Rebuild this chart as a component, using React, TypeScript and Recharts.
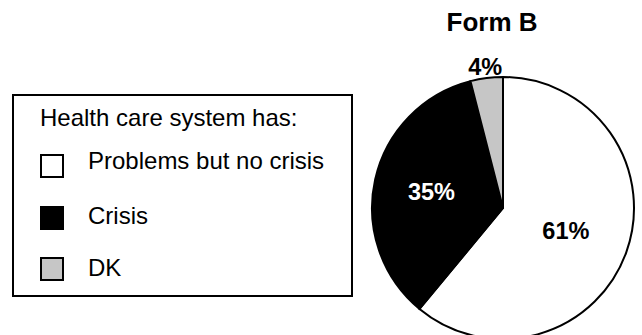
import { PieChart, Pie, Cell } from "recharts"

const categories = ["Problems but no crisis", "Crisis", "DK"]
const shares = [61, 35, 4]
const fills = ["#ffffff", "#000000", "#c6c6c6"]
const labelColors = ["#000000", "#ffffff", "#000000"]

const data = categories.map((name, i) => ({ name, value: shares[i] }))

const FONT = "'Liberation Sans', Arial, Helvetica, sans-serif"
const RAD = Math.PI / 180

function renderLabel(props: any) {
  const { cx, cy, midAngle, outerRadius, value, index } = props
  const r = value < 10 ? outerRadius + 11 : outerRadius * (index === 0 ? 0.51 : 0.56)
  const x = cx + r * Math.cos(-midAngle * RAD)
  const y = cy + r * Math.sin(-midAngle * RAD)
  return (
    <text
      x={x} y={y}
      fill={labelColors[index]}
      textAnchor="middle"
      dominantBaseline="central"
      fontFamily={FONT}
      fontWeight="bold"
      fontSize={23.5}
    >
      {value}%
    </text>
  )
}

function LegendBox() {
  const rowTops = [61, 113, 164]
  const textTops = [54.5, 109.5, 161.5]
  return (
    <div
      style={{
        position: "absolute", left: 12, top: 94, width: 341, height: 203, boxSizing: "border-box",
        border: "2px solid #000", background: "#fff", fontFamily: FONT, fontSize: 24,
        lineHeight: "23px", color: "#000",
      }}
    >
      <div style={{ position: "absolute", left: 26, top: 9.5, whiteSpace: "nowrap" }}>
        Health care system has:
      </div>
      {categories.map((c, i) => (
        <div key={c}>
          <div
            style={{
              position: "absolute", left: 26, top: rowTops[i] - 3, width: 24, height: 24,
              boxSizing: "border-box", border: "2px solid #000", background: fills[i],
            }}
          />
          <div style={{ position: "absolute", left: 74, top: textTops[i] - 2, whiteSpace: "nowrap" }}>
            {c}
          </div>
        </div>
      ))}
    </div>
  )
}

export default function App() {
  return (
    <div style={{ position: "absolute", left: 0, top: 0, width: 642, height: 335, background: "#fff" }}>
      <div style={{ position: "absolute", left: 0, top: 0 }}>
        <PieChart width={642} height={335}>
          <Pie
            data={data}
            dataKey="value"
            nameKey="name"
            cx={498}
            cy={203}
            outerRadius={131}
            startAngle={90}
            endAngle={-270}
            stroke="#000"
            strokeWidth={2}
            label={renderLabel}
            labelLine={false}
            isAnimationActive={false}
          >
            {data.map((d, i) => (
              <Cell key={d.name} fill={fills[i]} />
            ))}
          </Pie>
        </PieChart>
      </div>
      <div
        style={{
          position: "absolute", left: 392, width: 200, top: 7, textAlign: "center",
          fontFamily: FONT, fontWeight: "bold", fontSize: 26, lineHeight: "30px",
        }}
      >
        Form B
      </div>
      <LegendBox />
    </div>
  )
}
